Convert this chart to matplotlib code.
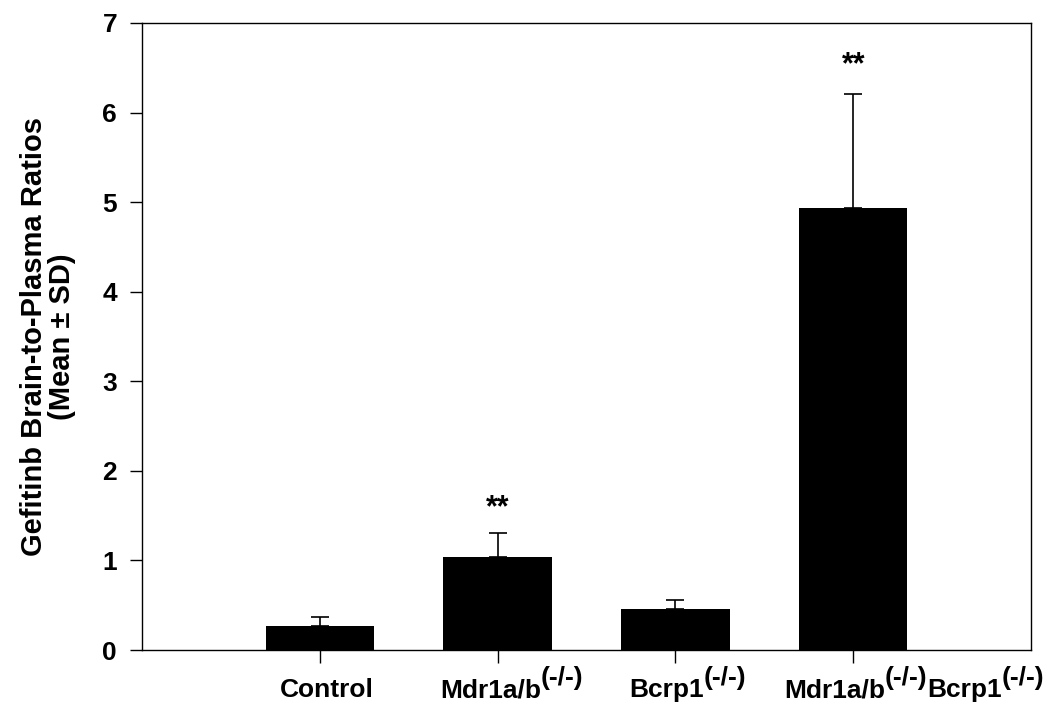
import matplotlib
matplotlib.use("Agg")
import matplotlib.pyplot as plt
import matplotlib.transforms as mtransforms

plt.rcParams['font.family'] = ['Liberation Sans', 'DejaVu Sans']
plt.rcParams['font.weight'] = 'bold'

# (text, is_superscript) pieces for each category label
categories = [
    [('Control', False)],
    [('Mdr1a/b', False), ('(-/-)', True)],
    [('Bcrp1', False), ('(-/-)', True)],
    [('Mdr1a/b', False), ('(-/-)', True), ('Bcrp1', False), ('(-/-)', True)],
]
means = [0.27, 1.04, 0.46, 4.94]
sds = [0.10, 0.27, 0.10, 1.27]
stars = ['', '**', '', '**']
star_y = [None, 1.58, None, 6.53]
yticks = [0, 1, 2, 3, 4, 5, 6, 7]

W, H = 1052, 705
fig = plt.figure(figsize=(W / 100, H / 100), dpi=100)
ax = fig.add_axes([142 / W, 1 - 650 / H, (1031 - 142) / W, (650 - 23) / H])

x = [1, 2, 3, 4]
ax.bar(x, means, width=0.61, color='black', zorder=2)
ax.errorbar(x, means, yerr=[[0] * 4, sds], fmt='none', ecolor='black',
            elinewidth=1.2, capsize=6.8, capthick=1.2, zorder=1)
for xi, s, sy in zip(x, stars, star_y):
    if s:
        ax.text(xi, sy, s, ha='center', va='center', fontsize=22,
                fontweight='bold')

ax.set_xlim(0, 5)
ax.set_ylim(0, 7)
ax.set_yticks(yticks)
ax.set_yticklabels([str(t) for t in yticks])
ax.set_xticks(x)
ax.set_xticklabels([''] * len(x))
for sp in ax.spines.values():
    sp.set_linewidth(1.0)
ax.tick_params(axis='both', direction='out', length=9, width=1.0,
               labelsize=19)
ax.tick_params(axis='y', pad=9)

ax.set_ylabel('Gefitinb Brain-to-Plasma Ratios\n(Mean ± SD)', fontsize=21,
              fontweight='bold', labelpad=19, linespacing=1.0)

# manual category labels with superscripts
renderer = fig.canvas.get_renderer()
base_fs, sup_fs = 19, 19
sup_rise = 12  # px
baseline = H - 697  # display y of label baseline
offsets = [7, 14, 12, 61]
ident = mtransforms.IdentityTransform()
for xi, pieces, off in zip(x, categories, offsets):
    widths = []
    for txt, sup in pieces:
        t = fig.text(0, 0, txt, fontsize=sup_fs if sup else base_fs,
                     fontweight='bold')
        widths.append(t.get_window_extent(renderer).width)
        t.remove()
    xc = ax.transData.transform((xi, 0))[0] + off
    cur = xc - sum(widths) / 2
    for (txt, sup), w in zip(pieces, widths):
        fig.text(cur, baseline + (sup_rise if sup else 0), txt,
                 fontsize=sup_fs if sup else base_fs, fontweight='bold',
                 ha='left', va='baseline', transform=ident)
        cur += w

fig.savefig('out.png', dpi=100)
